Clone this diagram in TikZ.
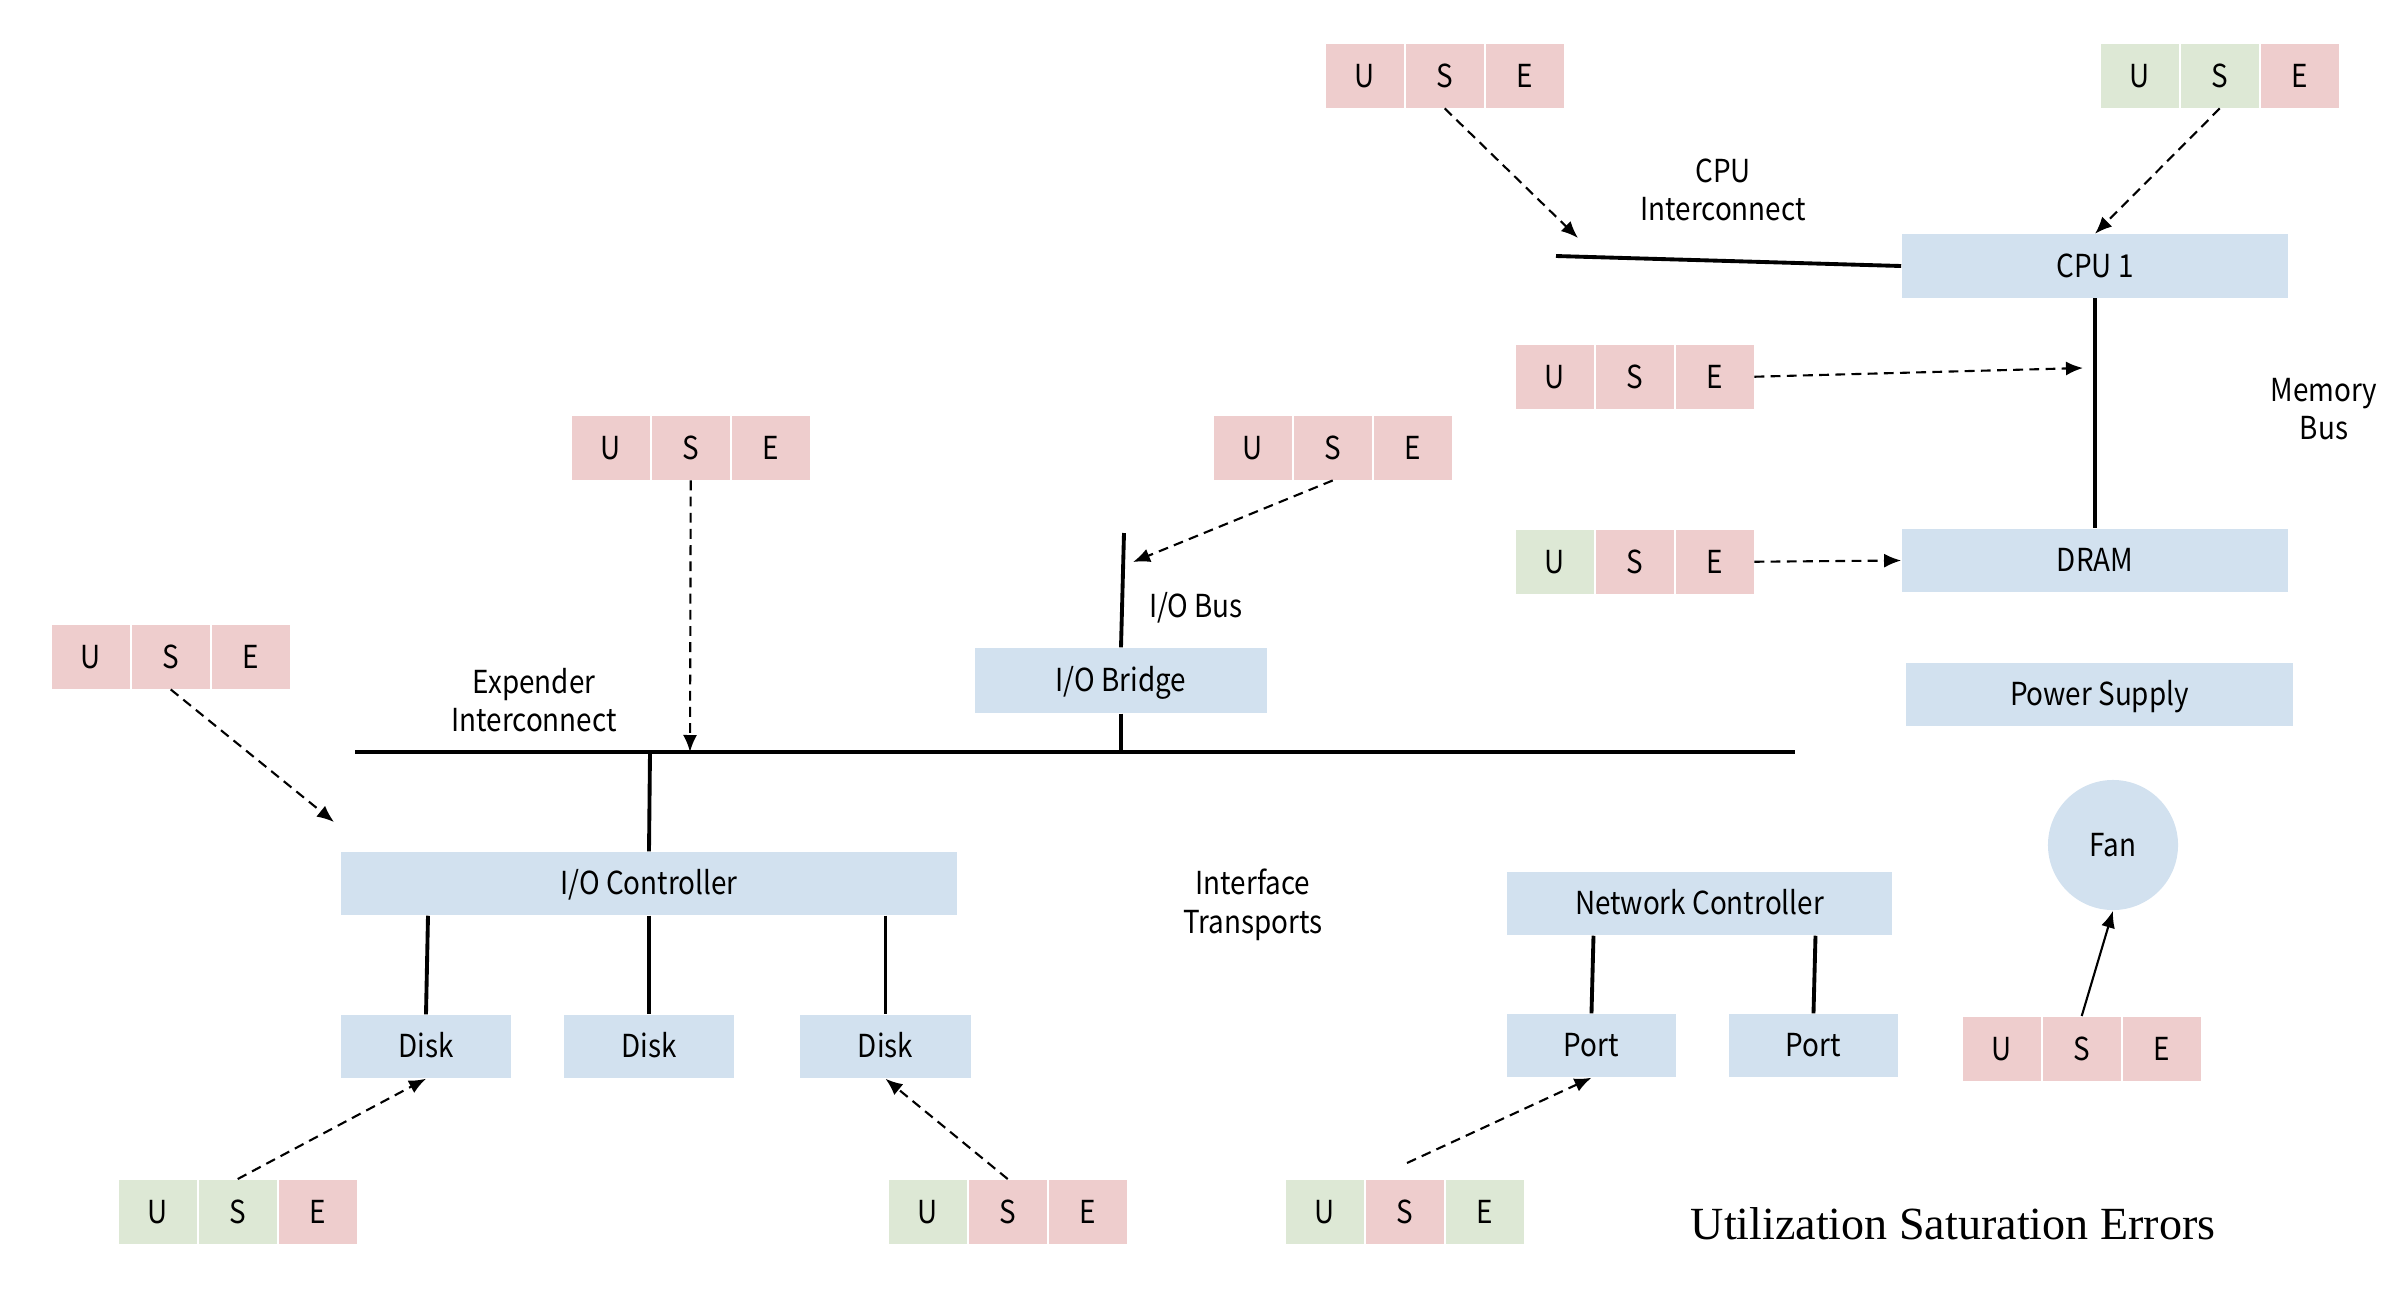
\documentclass[tikz,border=0pt]{standalone}
\usepackage{fontspec}
\setmainfont{Noto Sans CJK SC}[FakeStretch=0.88]
\newfontfamily\titlefont{Liberation Serif}
\usetikzlibrary{arrows.meta}
\definecolor{upink}{HTML}{EECDCD}
\definecolor{ugreen}{HTML}{DDE8D5}
\definecolor{ublue}{HTML}{D2E1EF}
\tikzset{
  txt/.style={font=\fontsize{9}{11}\selectfont},
  boxtxt/.style={txt, text height=1.6ex, text depth=0.4ex},
  comp/.style={boxtxt, fill=ublue, inner sep=0pt, minimum height=0.63cm},
  cell/.style={boxtxt, minimum width=0.78cm, minimum height=0.64cm, inner sep=0pt, anchor=north west},
  bus/.style={line width=1.1pt},
  probe/.style={dashed, line width=0.6pt, dash pattern=on 2.8pt off 1.8pt, -{Latex[length=0.17cm,width=0.14cm]}},
  solidprobe/.style={line width=0.6pt, -{Latex[length=0.17cm,width=0.14cm]}},
  lbl/.style={txt, align=center, inner sep=0pt}
}
\newcommand{\usegrp}[6]{%
  \node[cell, fill=#4] (#1u) at (#2, #3) {U};
  \node[cell, fill=#5] (#1s) at (#2+80, #3) {S};
  \node[cell, fill=#6] (#1e) at (#2+160, #3) {E};
}
\begin{document}
\begin{tikzpicture}[x=0.01cm, y=-0.01cm]
\useasboundingbox (0,0) rectangle (2408,1296);

% components
\node[comp, minimum width=3.86cm] (cpu) at (2095,266) {CPU 1};
\node[comp, minimum width=3.86cm] (dram) at (2095,560.5) {DRAM};
\node[comp, minimum width=3.87cm] (psu) at (2099.5,694.5) {Power Supply};
\node[comp, minimum width=2.92cm, minimum height=0.65cm] (iobr) at (1121,680.5) {I/O Bridge};
\node[comp, minimum width=6.16cm] (ioc) at (649,883.5) {I/O Controller};
\node[comp, minimum width=1.70cm] (disk1) at (426,1046.5) {Disk};
\node[comp, minimum width=1.70cm] (disk2) at (649,1046.5) {Disk};
\node[comp, minimum width=1.70cm] (disk3) at (885.5,1046.5) {Disk};
\node[comp, minimum width=3.85cm] (nc) at (1699.5,903.5) {Network Controller};
\node[comp, minimum width=1.69cm] (port1) at (1591.5,1045.5) {Port};
\node[comp, minimum width=1.69cm] (port2) at (1813.5,1045.5) {Port};
\node[txt, circle, fill=ublue, minimum size=1.30cm, inner sep=0pt] (fan) at (2113,845) {Fan};

% USE groups
\usegrp{ga}{1325}{43}{upink}{upink}{upink}
\usegrp{gb}{2100}{43}{ugreen}{ugreen}{upink}
\usegrp{gc}{1515}{344}{upink}{upink}{upink}
\usegrp{gd}{1515}{529}{ugreen}{upink}{upink}
\usegrp{ge}{571}{415}{upink}{upink}{upink}
\usegrp{gf}{1213}{415}{upink}{upink}{upink}
\usegrp{gg}{51}{624}{upink}{upink}{upink}
\usegrp{gh}{118}{1179}{ugreen}{ugreen}{upink}
\usegrp{gi}{888}{1179}{ugreen}{upink}{upink}
\usegrp{gj}{1285}{1179}{ugreen}{upink}{ugreen}
\usegrp{gk}{1962}{1016}{upink}{upink}{upink}

% labels
\node[lbl] (lci) at (1723,190) {CPU\\Interconnect};
\node[lbl] (lmb) at (2324,409) {Memory\\Bus};
\node[lbl] (liob) at (1196,608) {I/O Bus};
\node[lbl] (lexp) at (534,700) {Expender\\Interconnect};
\node[lbl] (lit) at (1253,905) {Interface\\Transports};
\node[inner sep=0pt, font=\titlefont\fontsize{13.1}{15}\selectfont] (title) at (1953,1224) {Utilization Saturation Errors};

% coordinates
\coordinate (ciL) at (1556,256);
\coordinate (busL) at (355,752);
\coordinate (busR) at (1795,752);
\coordinate (busC) at (650,752);
\coordinate (busB) at (1121,752);
\coordinate (iobT) at (1124,533);
\coordinate (aCI) at (1578,238);
\coordinate (aMB) at (2083,368);
\coordinate (aEB) at (690,752);
\coordinate (aIOB) at (1133,562);
\coordinate (aIOC) at (334,822);
\coordinate (sNet) at (1407,1163);

% buses
\draw[bus] (ciL) -- (cpu.west);
\draw[bus] (cpu.south) -- (dram.north);
\draw[bus] (iobT) -- (iobr.north);
\draw[bus] (iobr.south) -- (busB);
\draw[bus] (busL) -- (busR);
\draw[bus] (busC) -- (ioc.north);
\draw[bus] (disk1.north |- ioc.south) ++(2,0) -- (disk1.north);
\draw[bus] (disk2.north |- ioc.south) -- (disk2.north);
\draw[bus] (disk3.north |- ioc.south) -- (disk3.north);
\draw[bus] (port1.north |- nc.south) ++(2,0) -- (port1.north);
\draw[bus] (port2.north |- nc.south) ++(2,0) -- (port2.north);

% probes
\draw[probe] (gas.south) -- (aCI);
\draw[probe] (gbs.south) -- (cpu.north);
\draw[probe] (gce.east) -- (aMB);
\draw[probe] (gde.east) -- (dram.west);
\draw[probe] (ges.south) -- (aEB);
\draw[probe] (gfs.south) -- (aIOB);
\draw[probe] (ggs.south) -- (aIOC);
\draw[probe] (ghs.north) -- (disk1.south);
\draw[probe] (gis.north) -- (disk3.south);
\draw[probe] (sNet) -- (port1.south);
\draw[solidprobe] (gks.north) -- (fan.south);
\end{tikzpicture}
\end{document}
